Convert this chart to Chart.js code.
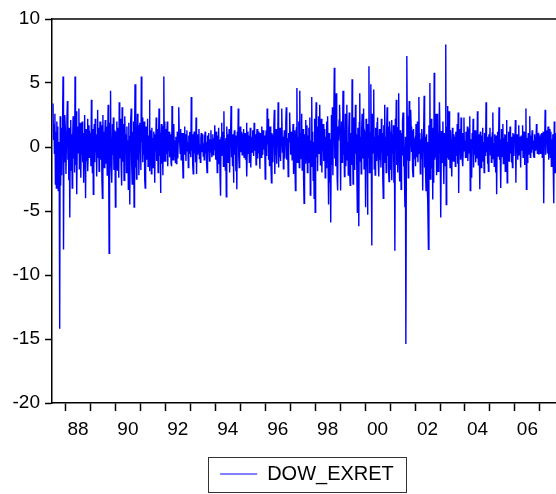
<!DOCTYPE html>
<html>
<head>
<meta charset="utf-8">
<title>DOW_EXRET</title>
<script src="https://cdn.jsdelivr.net/npm/chart.js@4.4.1/dist/chart.umd.min.js"></script>
<style>
  body { margin: 0; background: #fff; }
  canvas { display: block; }
</style>
</head>
<body>
<canvas id="dowChart" width="556" height="494"></canvas>
<script>
// weekly Dow excess returns (%), one array per year
const seriesName = 'DOW_EXRET';
const yMin = -20;
const yMax = 10;
const xMin = 1987.46;
const xMax = 2007.645;

const ret1987 = [3.4, 0.6, 1.8, -0.5, 2.6, -2.9, 1.2, -3.2, 2.0, -0.8, 1.6, -3.4, 0.4, -1.5, -14.2, 2.4, -3.0, 1.5, -2.2, 0.8, 2.0, 5.5, -8.0, 1.6, -1.2, 2.5];
const ret1988 = [1.2, -2.1, 0.5, 2.2, 3.6, -1.0, 0.8, -2.6, 1.5, -5.5, 0.3, 2.1, -1.8, 1.0, -3.2, 0.6, 2.4, -0.9, 1.3, -2.0, 5.5, -1.4, 2.8, 0.2, -3.7, 1.6, -0.5, 0.9, 3.0, -1.7, 0.4, 1.9, -2.4, 0.7, -0.6, 2.0, -1.2, 1.1, -2.8, 0.5, 2.5, -0.3, -4.0, 1.4, -1.1, 0.8, 2.2, -1.9, 0.3, 1.7, -0.8, 1.0];
const ret1989 = [0.8, -1.5, 3.7, 0.2, -2.0, 1.4, -3.7, 0.9, 1.8, -1.2, 2.2, -0.4, 1.0, -2.3, 0.5, 2.9, -0.8, 1.5, -1.9, 0.6, 2.0, -1.0, 0.3, 1.7, -2.6, -4.0, 2.5, -0.7, 1.2, -1.6, 0.9, 2.1, -1.3, 0.4, 1.6, -2.2, 0.8, 3.3, -1.0, -8.3, 1.9, 0.6, 4.4, -1.5, 0.7, -2.8, 1.8, -0.6, 2.3, -1.8, 0.5, 1.3];
const ret1990 = [-4.7, 1.2, -0.5, 2.0, -1.8, 0.6, 1.5, -2.4, 3.5, -0.9, 0.4, 2.2, -1.5, -3.0, 3.1, 0.3, -1.1, 1.8, -2.6, 0.7, 2.4, -0.4, 1.0, -2.0, 1.6, -1.2, 0.5, -3.3, 1.9, -0.6, -4.5, 0.8, 2.1, 3.0, -1.4, -2.9, 1.2, -0.5, 2.0, -4.7, 0.9, 4.9, -1.6, 1.4, -2.5, 0.6, 2.6, -1.0, 1.7, -2.2, 0.4, 1.9];
const ret1991 = [1.0, -1.8, 5.5, 0.4, 2.3, -1.2, 1.1, -0.6, 2.0, -2.5, -3.2, 0.8, 1.6, -1.0, 0.5, 2.2, -1.5, 0.9, -0.4, 3.7, -1.9, 0.6, 1.3, -2.1, 1.5, -0.8, 0.7, -1.6, 1.2, 0.2, -2.8, 1.0, -0.3, 2.3, -1.1, 0.6, 1.4, -2.0, 0.8, 3.0, -0.7, 1.1, -3.6, 0.5, 1.8, -1.3, 0.9, -2.2, 1.6, 5.5, -1.1, 2.0];
const ret1992 = [-1.1, 1.4, -0.5, 0.8, 2.0, -1.5, 0.6, -0.3, 1.2, -0.8, 1.0, 0.2, -1.3, -1.5, 3.2, 0.9, -1.0, 0.4, 1.8, -0.7, 0.5, -1.2, 0.8, -1.3, -0.4, 1.2, -0.9, 0.6, 3.1, 1.1, 0.3, -0.5, 1.4, -1.0, 0.7, 1.1, -0.8, -2.4, 1.1, 0.5, 1.6, -0.6, 1.0, -1.1, 0.7, 1.3, -0.3, 0.4, -1.6, 0.9, -0.5, 1.2];
const ret1993 = [0.5, -0.8, 3.9, -0.3, 1.0, -1.4, -2.1, 0.6, 1.2, -0.5, 0.8, -1.2, 2.3, -2.1, 0.4, 1.0, -0.6, 0.3, 1.4, -0.9, 0.2, -1.2, 0.7, 1.1, -0.4, 0.6, 1.0, -0.7, 0.3, -1.0, 0.8, 1.2, -0.5, 0.4, -1.3, -2.0, 0.9, -0.3, 1.1, 0.2, -1.1, 0.6, -0.4, 1.3, 0.1, -0.8, 0.5, 1.0, -0.6, 0.7, -0.2, 1.7];
const ret1994 = [0.4, -1.0, 1.2, 0.3, -2.0, 0.9, -0.5, 1.5, -1.3, 0.6, -2.4, -3.8, 0.8, 1.9, -0.7, 0.4, 1.2, -1.5, 2.8, -0.9, 0.5, -1.8, 0.7, -3.9, 1.6, -0.4, 1.0, -1.2, 0.3, 1.4, -2.0, 0.6, 1.1, 3.2, -0.8, 0.2, -1.5, 1.0, -2.8, 0.5, 1.3, -0.6, 0.9, -1.9, 0.4, -3.3, 1.2, 0.1, 3.0, -0.7, -1.6, 0.8];
const ret1995 = [1.6, -0.4, 0.8, 1.2, -0.6, 0.3, 1.0, 1.4, -0.8, 0.5, 1.1, -1.0, 0.7, 1.9, -2.3, 0.4, 1.2, -0.5, 0.9, -1.2, 0.6, 1.5, -1.6, 0.3, 0.8, -0.4, 1.3, 0.2, -0.7, 1.9, -0.3, 0.6, 1.0, -1.4, 0.4, 1.4, -0.9, 0.7, 1.2, -0.5, 0.3, -1.7, 1.1, 0.5, -0.8, 1.6, 0.2, -0.6, 1.3, -0.2, 0.9, 0.4];
const ret1996 = [-2.5, 0.6, 1.3, -0.7, 3.0, 0.2, 2.2, -1.0, 0.8, -1.5, 1.6, 0.3, -0.9, -2.8, 1.1, 0.4, -1.2, 0.9, 1.7, 2.9, -2.1, 0.5, -0.6, 1.4, -1.3, 0.7, 0.2, 3.5, -1.6, 0.9, -0.8, 1.5, -1.1, 0.4, 1.2, 3.0, -0.4, 0.8, -1.7, 0.6, 1.3, -0.9, 0.5, 2.0, 3.1, -1.0, 0.7, -0.2, -2.3, 1.1, 0.4, 2.7];
const ret1997 = [0.9, -0.6, 1.2, 0.3, -1.0, 0.7, 1.8, -2.1, 0.5, 1.3, -0.8, -3.4, 0.6, 1.5, 4.6, -1.2, 0.8, -0.5, 2.0, -1.6, 4.4, 0.3, 1.1, -0.9, 2.6, -1.8, 0.7, 1.4, -2.5, -4.4, 1.0, -0.4, 2.1, -1.3, 0.6, 1.7, -2.0, 0.9, -0.7, 1.5, -1.2, 2.3, -3.75, 0.5, -1.5, 3.9, -0.8, 1.2, -2.6, 0.4, -4.0, 2.2];
const ret1998 = [-5.1, 1.2, 3.5, -0.8, 1.6, -1.9, 0.7, 2.4, -0.5, 1.0, 3.3, -1.4, 0.6, 2.2, -2.0, 0.9, -0.3, 1.8, -1.1, 0.5, 1.4, -2.4, 0.8, -1.6, 2.0, 0.3, 2.4, -1.2, -4.5, 1.1, -2.8, 0.6, -3.0, -5.9, 2.5, -1.4, 3.1, -2.2, 1.0, 2.7, 6.2, -0.9, 1.8, -1.5, 4.2, 0.4, -2.5, -3.4, 1.6, 0.5, 2.1, 3.3];
const ret1999 = [1.5, -3.4, 0.8, 2.0, -1.2, 0.5, 4.4, -0.6, 1.7, -2.3, -0.8, 2.6, -1.5, 0.9, 3.3, -1.0, 0.4, -2.2, 1.3, 2.7, -2.0, -3.0, 1.1, 0.3, -1.4, 5.3, 0.6, -2.9, 1.2, 2.3, -0.7, -1.8, 3.3, -0.5, 1.0, -2.4, -5.1, 1.5, 0.2, -6.2, 1.9, 4.2, -1.1, 0.8, -2.1, 1.4, 2.6, -0.9, 0.5, 3.0, -1.7, 1.2];
const ret2000 = [1.0, -4.7, 2.2, -1.5, 0.6, -5.3, 1.8, -0.8, 6.3, -2.0, 1.2, 0.4, 4.9, -1.3, -7.7, 2.6, -0.5, 1.0, 4.5, -1.7, 0.8, -2.2, 1.5, 0.3, -1.1, 1.9, 2.3, -0.6, 0.9, -2.3, 1.4, -1.0, 0.5, -1.6, 2.2, -0.4, 1.1, -2.5, -4.0, 1.7, 0.6, 3.3, -1.2, 0.8, -2.0, 1.3, 3.1, -0.7, 1.6, -1.8, -2.7, 2.0];
const ret2001 = [1.2, -1.8, 0.6, 2.1, -2.6, 1.0, -0.5, 1.7, -2.8, 0.4, -8.1, 2.2, 0.9, 3.7, -1.4, 0.6, -2.0, 1.5, 4.2, -0.8, -2.7, 1.3, 0.2, -3.3, 1.1, -0.6, 2.0, 2.7, -1.5, 0.7, -2.2, -4.7, 0.8, -15.4, -1.0, 7.1, 1.2, 2.4, -2.4, 0.9, 3.6, -1.1, 0.5, 2.9, 1.6, -0.4, 1.3, -1.8, -2.3, 1.4, -0.9, 0.4];
const ret2002 = [0.6, -1.5, 1.8, -0.8, 0.3, 2.0, -1.2, 0.7, 3.9, -0.5, 1.1, -2.1, 0.6, -0.9, 1.4, 0.7, -3.4, 0.5, 1.2, 4.0, -1.6, 0.8, -2.0, -3.4, 1.0, -2.5, 0.4, -4.2, -8.0, 1.7, -1.3, 5.0, -2.5, 0.6, 2.2, -1.7, 0.9, -4.1, 1.5, -2.8, 5.8, -1.0, 2.6, -0.8, 1.3, -2.2, 2.6, 0.5, -1.9, 1.1, -0.6, 3.5];
const ret2003 = [1.0, -1.8, -5.5, 1.25, 0.3, -1.2, 2.0, -0.6, -2.9, 1.1, -1.5, 0.4, 8.0, -4.5, 1.6, -0.8, 3.2, 0.5, -1.0, 2.8, 0.7, -1.6, 1.3, 0.2, -0.9, -2.3, 1.5, 0.6, -1.1, 1.0, -0.4, 0.8, -1.5, 1.2, 0.3, -0.7, 1.8, -1.3, 2.7, -3.6, 0.9, -0.5, 1.4, -1.0, 2.3, 0.4, -0.8, 1.1, -1.5, 0.6, 2.3, -0.3];
const ret2004 = [0.5, -0.8, 1.2, -0.8, 0.3, 1.6, -1.1, 0.7, -0.5, 1.4, 2.4, -3.4, 0.6, -1.0, -2.4, 1.1, 0.2, 2.2, -1.6, 0.4, -0.6, 1.3, -1.2, 0.8, 0.1, -0.9, 2.8, 0.3, -1.4, 1.0, -0.5, -3.3, 1.2, 0.6, -1.6, 0.9, -0.3, 1.5, -1.1, 0.4, -2.0, 1.1, 0.5, -0.7, 3.5, -0.4, 0.8, -1.3, 0.6, -1.9, 1.0, 0.2];
const ret2005 = [1.5, -0.6, 0.8, -1.2, 0.4, 1.1, 2.7, -0.9, 0.3, -1.5, 1.0, 0.6, -2.0, 0.9, -3.7, 0.5, 1.2, -0.7, 0.4, 3.1, -1.0, 0.6, -0.4, -3.2, 1.4, -0.8, 0.2, 1.8, -1.3, 0.7, -0.2, 1.0, -1.9, 0.5, 0.9, 2.1, -2.8, 0.4, -0.6, 1.2, -1.1, 0.3, 1.6, -0.5, 0.8, -1.2, 0.6, -1.6, 1.1, 0.2, -0.7, 1.0];
const ret2006 = [0.4, 2.1, -2.8, 0.6, -0.4, 1.0, -1.0, 0.3, 1.7, -0.6, 0.8, 0.2, -1.6, 0.9, -0.3, 0.5, 1.7, -0.8, 0.4, 1.2, -1.4, 0.6, -0.5, 3.0, -3.3, 0.7, -1.2, 0.3, 1.1, -0.6, 0.2, 2.4, -0.8, 0.9, -0.4, 0.6, 1.3, -0.2, 0.5, -0.7, -0.8, 1.0, 0.3, 0.6, -0.3, 1.8, 0.4, -0.5, 1.1, 0.2, -0.6, 0.8];
const ret2007 = [0.6, -0.5, 1.0, 0.3, 1.1, -0.8, 0.5, 1.2, -4.4, 0.9, 0.4, 2.9, -0.6, 0.8, 0.2, 1.3, -0.5, 1.6, 0.7, -1.0, 1.4, 0.3, -0.8, 1.2, -1.5, 0.6, -0.2, 1.0, -1.8, -4.4, 2.0, 0.8, -2.0, 1.1, -0.9, 2.1];

// where each yearly block starts on the time axis
const yearBlocks = [
    [1987.5, ret1987], [1988, ret1988], [1989, ret1989], [1990, ret1990],
    [1991, ret1991], [1992, ret1992], [1993, ret1993], [1994, ret1994],
    [1995, ret1995], [1996, ret1996], [1997, ret1997], [1998, ret1998],
    [1999, ret1999], [2000, ret2000], [2001, ret2001], [2002, ret2002],
    [2003, ret2003], [2004, ret2004], [2005, ret2005], [2006, ret2006],
    [2007, ret2007]
];
const weekStep = 7 / 365.25;

const points = [];
yearBlocks.forEach(([start, values]) => {
    values.forEach((v, k) => points.push({x: start + k * weekStep, y: v}));
});

const axisFont = {family: '"Liberation Sans", Arial, sans-serif', size: 19};
const legendFontSize = 20;
const legendPadding = 14;
const legendShift = 29;   // legend sits right of centre in the original

// top frame line and the box round the legend
const framePlugin = {
    id: 'frame',
    afterLayout(chart) {
        const lg = chart.legend;
        lg.left += legendShift;
        lg.right += legendShift;
    },
    afterDraw(chart) {
        const ctx = chart.ctx;
        const area = chart.chartArea;
        const lg = chart.legend;
        ctx.save();
        ctx.strokeStyle = '#000';
        ctx.lineWidth = 1.5;
        ctx.beginPath();
        ctx.moveTo(area.left, area.top);
        ctx.lineTo(area.right + 2, area.top);
        ctx.stroke();

        // legend item is centred in the legend block
        const cx = (lg.left + lg.right) / 2;
        const cy = lg.top + legendPadding + legendFontSize / 2;
        ctx.strokeStyle = '#333';
        ctx.lineWidth = 1;
        ctx.strokeRect(Math.round(cx - 99) + 0.5, Math.round(cy - 17.5) + 0.5, 198, 35);
        ctx.restore();
    }
};

const config = {
    type: 'line',
    data: {
        datasets: [{
            label: seriesName,
            data: points,
            borderColor: '#0000ff',
            backgroundColor: '#0000ff',
            borderWidth: 1.4,
            pointRadius: 0,
            tension: 0,
            fill: false
        }]
    },
    options: {
        responsive: false,
        animation: false,
        layout: {padding: {top: 19, right: 0, left: 0, bottom: 0}},
        plugins: {
            tooltip: {enabled: false},
            legend: {
                position: 'bottom',
                labels: {
                    color: '#000',
                    font: {family: '"Liberation Sans", Arial, sans-serif', size: legendFontSize},
                    boxWidth: 37,
                    boxHeight: 1,
                    padding: legendPadding,
                    generateLabels: () => [{
                        text: seriesName,
                        fillStyle: '#0000ff',
                        strokeStyle: '#0000ff',
                        lineWidth: 0,
                        hidden: false,
                        datasetIndex: 0
                    }]
                }
            }
        },
        scales: {
            x: {
                type: 'linear',
                min: xMin,
                max: xMax,
                afterBuildTicks: (scale) => {
                    const ticks = [];
                    for (let y = 1988; y <= 2007; y++) {
                        ticks.push({value: y});
                        if (y % 2 === 0 && y <= 2006) ticks.push({value: y + 0.5});
                    }
                    scale.ticks = ticks;
                },
                afterFit: (scale) => { scale.height = 47; },
                border: {color: '#000', width: 1.5},
                grid: {
                    drawOnChartArea: false,
                    tickLength: 8,
                    tickWidth: 1.5,
                    tickColor: (ctx) => (ctx.tick && Number.isInteger(ctx.tick.value)) ? '#000' : 'rgba(0,0,0,0)'
                },
                ticks: {
                    autoSkip: false,
                    maxRotation: 0,
                    padding: 7,
                    color: '#000',
                    font: axisFont,
                    callback: (value) => Number.isInteger(value) ? '' : String(Math.floor(value)).slice(2)
                }
            },
            y: {
                min: yMin,
                max: yMax,
                afterFit: (scale) => { scale.width = 52; },
                border: {color: '#000', width: 1.5},
                grid: {
                    drawOnChartArea: false,
                    tickLength: 7,
                    tickWidth: 1.5,
                    tickColor: '#000'
                },
                ticks: {
                    stepSize: 5,
                    padding: 5,
                    color: '#000',
                    font: axisFont
                }
            }
        }
    },
    plugins: [framePlugin]
};

const myChart = new Chart(document.getElementById('dowChart'), config);
</script>
</body>
</html>
